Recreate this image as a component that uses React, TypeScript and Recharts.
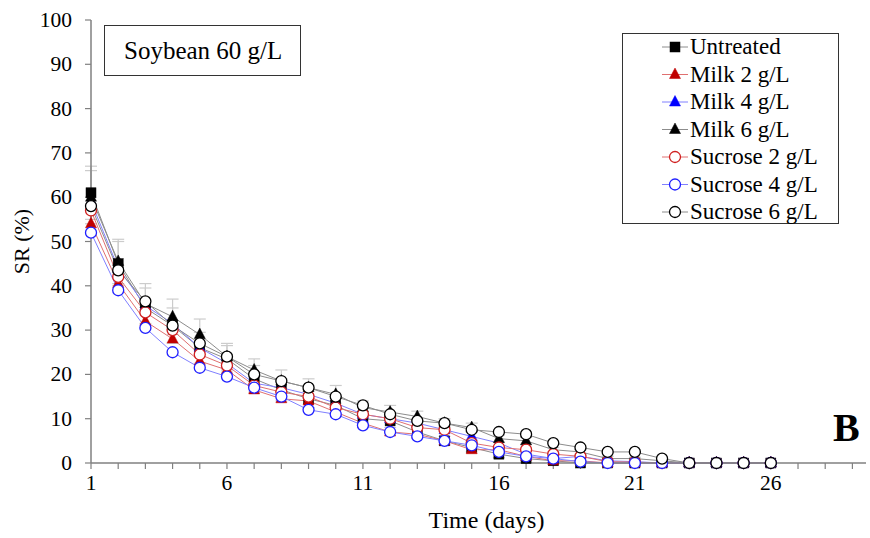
import React from 'react';
import { LineChart, Line, XAxis, YAxis, ErrorBar, Label } from 'recharts';

const days = [1, 2, 3, 4, 5, 6, 7, 8, 9, 10, 11, 12, 13, 14, 15, 16, 17, 18, 19, 20, 21, 22, 23, 24, 25, 26];
const untreated = [61, 45, 35, 31, 26, 23.5, 19, 16.5, 14.5, 13, 10, 9.5, 7, 5, 3.5, 2, 1, 0.5, 0, 0, 0, 0, 0, 0, 0, 0];
const milk2 = [54, 40.5, 32, 28, 23, 21, 16.5, 14.5, 14, 11.5, 9, 7, 6.5, 5, 3, 3, 1.5, 0.5, 0.5, 0, 0, 0, 0, 0, 0, 0];
const milk4 = [59, 44, 35.5, 31.5, 26, 22.5, 18, 17, 15.5, 13.5, 11, 10, 9, 7.5, 6, 4.5, 2, 1, 1.5, 0.5, 0.3, 0, 0, 0, 0, 0];
const milk6 = [60, 45.5, 36, 33, 29, 24, 21, 18.5, 17, 15.5, 12.5, 11.5, 10.5, 9, 8, 5.5, 5, 3, 2.5, 1, 1, 0.5, 0, 0, 0, 0];
const sucrose2 = [57, 42, 34, 30, 24.5, 22, 17.5, 16, 15, 12.5, 11, 10, 8, 7.5, 4.5, 3.5, 3, 2, 1.5, 0.3, 0.2, 0, 0, 0, 0, 0];
const sucrose4 = [52, 39, 30.5, 25, 21.5, 19.5, 17, 15, 12, 11, 8.5, 7, 6, 5, 4, 2.5, 1.5, 1, 0.3, 0, 0, 0, 0, 0, 0, 0];
const sucrose6 = [58, 43.5, 36.5, 31, 27, 24, 20, 18.5, 17, 15, 13, 11, 9.5, 9, 7.5, 7, 6.5, 4.5, 3.5, 2.5, 2.5, 1, 0, 0, 0, 0];
const untreatedErr = [6, 5, 4.5, 4, 3.5, 3, 3, 2.5, 2, 2, 1.5, 1.5, 1.2, 1, 1, 0.8, 0.5, 0.5, 0, 0, 0, 0, 0, 0, 0, 0];
const milk6Err = [6, 5, 4.5, 4, 3.5, 3, 2.5, 2.5, 2, 2, 1.5, 1.5, 1.2, 1, 1, 0.8, 0.8, 0.5, 0.5, 0.5, 0.3, 0, 0, 0, 0, 0];

const xTicks = [1, 2, 3, 4, 5, 6, 7, 8, 9, 10, 11, 12, 13, 14, 15, 16, 17, 18, 19, 20, 21, 22, 23, 24, 25, 26, 27, 28, 29];
const xTickLabels = [1, 6, 11, 16, 21, 26];
const yTicks = [0, 10, 20, 30, 40, 50, 60, 70, 80, 90, 100];
const seriesNames = ['Untreated', 'Milk 2 g/L', 'Milk 4 g/L', 'Milk 6 g/L', 'Sucrose 2 g/L', 'Sucrose 4 g/L', 'Sucrose 6 g/L'];
const panelTitle = 'Soybean 60 g/L';
const panelLetter = 'B';
const xTitle = 'Time (days)';
const yTitle = 'SR (%)';

const data = days.map((d, i) => ({
  day: d,
  untreated: untreated[i],
  milk2: milk2[i],
  milk4: milk4[i],
  milk6: milk6[i],
  sucrose2: sucrose2[i],
  sucrose4: sucrose4[i],
  sucrose6: sucrose6[i],
  untreatedErr: untreatedErr[i],
  milk6Err: milk6Err[i],
}));

const FONT = 'Liberation Serif, Times New Roman, serif';

type Shape = 'square' | 'triangle' | 'circle';

function Marker({ shape, color, cx, cy }: { shape: Shape; color: string; cx: number; cy: number }) {
  if (shape === 'square') {
    return <rect x={cx - 5} y={cy - 5} width={10} height={10} fill={color} stroke={color} strokeWidth={0.5} />;
  }
  if (shape === 'triangle') {
    return (
      <polygon
        points={`${cx},${cy - 6.5} ${cx - 5.5},${cy + 4} ${cx + 5.5},${cy + 4}`}
        fill={color}
        stroke={color}
        strokeWidth={0.5}
      />
    );
  }
  return <circle cx={cx} cy={cy} r={5.5} fill="#ffffff" stroke={color} strokeWidth={1.3} />;
}

const series = [
  { key: 'untreated', name: seriesNames[0], shape: 'square' as Shape, color: '#000000', line: '#8c8c8c', err: 'untreatedErr' },
  { key: 'milk2', name: seriesNames[1], shape: 'triangle' as Shape, color: '#c00000', line: '#e07070' },
  { key: 'milk4', name: seriesNames[2], shape: 'triangle' as Shape, color: '#0000ff', line: '#8080ff' },
  { key: 'milk6', name: seriesNames[3], shape: 'triangle' as Shape, color: '#000000', line: '#8c8c8c', err: 'milk6Err' },
  { key: 'sucrose2', name: seriesNames[4], shape: 'circle' as Shape, color: '#d02020', line: '#e07070' },
  { key: 'sucrose4', name: seriesNames[5], shape: 'circle' as Shape, color: '#2020ff', line: '#8080ff' },
  { key: 'sucrose6', name: seriesNames[6], shape: 'circle' as Shape, color: '#000000', line: '#8c8c8c' },
];

const axisColor = '#808080';

function XTick(props: any) {
  const { x, y, payload } = props;
  const v = payload.value;
  if (!xTickLabels.includes(v)) return <g />;
  return (
    <text x={x} y={y + 17} textAnchor="middle" fontFamily={FONT} fontSize={21.5} fill="#000">
      {String(v)}
    </text>
  );
}

function YTick(props: any) {
  const { x, y, payload } = props;
  return (
    <text x={x} y={y + 7} textAnchor="end" fontFamily={FONT} fontSize={21.5} fill="#000">
      {String(payload.value)}
    </text>
  );
}

export default function App() {
  return (
    <div style={{ position: 'absolute', left: 0, top: 0, width: 870, height: 538, background: '#fff', fontFamily: FONT }}>
      <LineChart width={870} height={538} data={data} margin={{ top: 20, right: 4, bottom: 0, left: 0 }}>
        <XAxis
          dataKey="day"
          type="number"
          domain={[1, 29.5]}
          ticks={xTicks}
          interval={0}
          height={75}
          tickSize={6}
          tickMargin={4}
          stroke={axisColor}
          strokeWidth={1.5}
          tickLine={{ stroke: axisColor, strokeWidth: 1.2 }}
          tick={<XTick />}
        >
          <Label
            content={(props: any) => {
              const vb = props.viewBox || { x: 91, y: 463, width: 775, height: 75 };
              const cx = vb.x + vb.width / 2 + 8;
              return (
                <text x={cx} y={vb.y + 65} textAnchor="middle" fontFamily={FONT} fontSize={24} fill="#000">
                  {xTitle}
                </text>
              );
            }}
          />
        </XAxis>
        <YAxis
          type="number"
          domain={[0, 100]}
          ticks={yTicks}
          interval={0}
          width={91}
          tickSize={6}
          tickMargin={13}
          stroke={axisColor}
          strokeWidth={1.5}
          tickLine={{ stroke: axisColor, strokeWidth: 1.2 }}
          tick={<YTick />}
        >
          <Label
            content={(props: any) => {
              const vb = props.viewBox || { x: 0, y: 20, width: 91, height: 443 };
              const cx = vb.x + 29;
              const cy = vb.y + vb.height / 2;
              return (
                <text
                  x={cx}
                  y={cy}
                  transform={`rotate(-90 ${cx} ${cy})`}
                  textAnchor="middle"
                  fontFamily={FONT}
                  fontSize={22}
                  fill="#000"
                >
                  {yTitle}
                </text>
              );
            }}
          />
        </YAxis>
        {series.map((s) => (
          <Line
            key={s.key}
            dataKey={s.key}
            name={s.name}
            type="linear"
            stroke={s.line}
            strokeWidth={1}
            isAnimationActive={false}
            dot={(p: any) => <Marker key={`${s.key}-${p.index}`} shape={s.shape} color={s.color} cx={p.cx} cy={p.cy} />}
            activeDot={false}
          >
            {s.err ? <ErrorBar dataKey={s.err} width={6} stroke="#cccccc" strokeWidth={1.2} direction="y" /> : null}
          </Line>
        ))}
      </LineChart>
      <svg width={870} height={538} style={{ position: 'absolute', left: 0, top: 0, pointerEvents: 'none' }}>
        <rect x={104.5} y={25.5} width={196} height={50} fill="#fff" stroke="#333" strokeWidth={1} />
        <text x={124} y={59} fontFamily={FONT} fontSize={25} fill="#000">
          {panelTitle}
        </text>
        <rect x={622.5} y={33.5} width={216} height={190} fill="#fff" stroke="#333" strokeWidth={1} />
        {series.map((s, i) => {
          const cy = 47 + i * 27.5;
          return (
            <g key={s.key}>
              <line x1={662} x2={688} y1={cy} y2={cy} stroke={s.line} strokeWidth={1} />
              <Marker shape={s.shape} color={s.color} cx={675} cy={cy} />
              <text x={690} y={cy + 7} fontFamily={FONT} fontSize={23} fill="#000">
                {s.name}
              </text>
            </g>
          );
        })}
        <text x={833} y={441} fontFamily={FONT} fontSize={40} fontWeight="bold" fill="#000">
          {panelLetter}
        </text>
      </svg>
    </div>
  );
}
